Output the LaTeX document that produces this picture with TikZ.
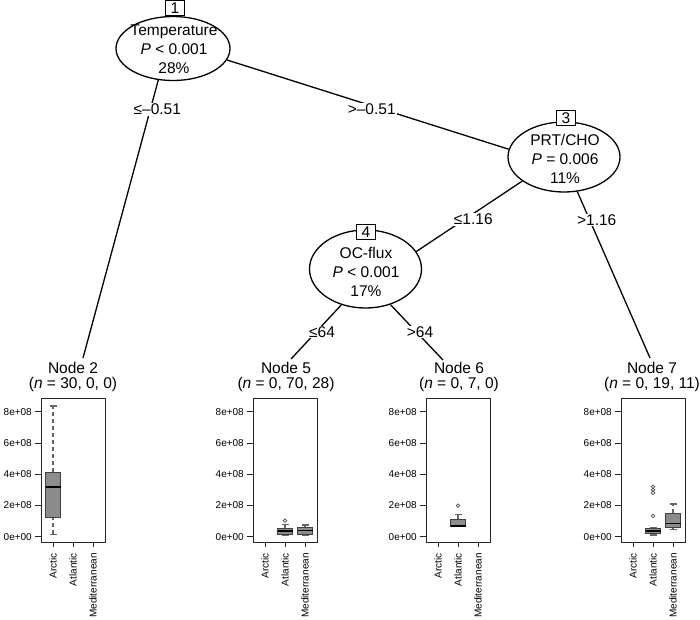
\documentclass[tikz,border=0pt]{standalone}
\usepackage{fontspec}
\setmainfont{Liberation Sans}
\usetikzlibrary{shapes.geometric}
\pgfmathdeclarefunction{yv}{1}{\pgfmathparse{536.7-15.6*#1}}
\tikzset{
 inode/.style={draw, ellipse, line width=1.3pt, fill=white, inner sep=0pt},
 itext/.style={align=center, font=\fontsize{15.5}{19}\selectfont, inner sep=0pt},
 numbox/.style={draw, fill=white, line width=1pt, inner sep=0pt, minimum width=19pt, minimum height=15pt, font=\fontsize{15.5}{18}\selectfont},
 edge/.style={line width=1.3pt},
 elab/.style={fill=white, inner sep=1pt, font=\fontsize{15.5}{18}\selectfont},
 hdr/.style={inner sep=0pt, font=\fontsize{15.5}{18}\selectfont},
 frame/.style={line width=0.9pt, draw=black!85},
 axl/.style={inner sep=0pt, font=\fontsize{10}{12}\selectfont},
 bx/.style={fill=black!45, draw=black!75, line width=0.8pt},
 whisk/.style={draw=black!60, dash pattern=on 4pt off 3pt, line width=1.1pt},
 capl/.style={draw=black!60, line width=1.1pt},
 medl/.style={line width=1.9pt},
 outl/.style={draw=black!70, line width=0.7pt},
}
\newcommand\bxp[6]{%
 \draw[whisk] (#1,{yv(#2)}) -- (#1,{yv(#3)}) (#1,{yv(#5)}) -- (#1,{yv(#6)});
 \draw[capl] ({#1-3.5},{yv(#2)}) -- ({#1+3.5},{yv(#2)}) ({#1-3.5},{yv(#6)}) -- ({#1+3.5},{yv(#6)});
 \filldraw[bx] ({#1-7.5},{yv(#3)}) rectangle ({#1+7.5},{yv(#5)});
 \draw[medl] ({#1-7.5},{yv(#4)}) -- ({#1+7.5},{yv(#4)});
}
\newcommand\outp[2]{\draw[outl] (#1,{yv(#2)}) circle (1.8pt);}
\newcommand\panel[2]{%
 \draw[frame] (#1,398) rectangle ++(64,144);
 \foreach \v/\t [count=\i] in {8/8e+08,6/6e+08,4/4e+08,2/2e+08,0/0e+00}{
   \draw[frame] ({#1-6.5},{yv(\v)}) -- (#1,{yv(\v)});
   \node[axl,anchor=east] (#2y\i) at ({#1-9},{yv(\v)}) {\t};
 }
 \foreach \c/\t [count=\i] in {12/Arctic,32/Atlantic,52/Mediterranean}{
   \draw[frame] ({#1+\c},542) -- ({#1+\c},547);
   \node[axl,rotate=90,anchor=east] (#2x\i) at ({#1+\c},553) {\t};
 }
}
\begin{document}
\begin{tikzpicture}[x=1pt,y=-1pt]
\useasboundingbox (0,0) rectangle (700,619);
% inner nodes
\node[inode, minimum width=114pt, minimum height=64pt] (n1) at (173,48.5) {};
\node[itext] (n1t) at (174,49.5) {Temperature\\\textit{P} < 0.001\\28\%};
\node[numbox] (b1) at (175,8) {1};
\node[inode, minimum width=112pt, minimum height=70pt] (n3) at (564,157) {};
\node[itext] (n3t) at (565,159) {PRT/CHO\\\textit{P} = 0.006\\11\%};
\node[numbox] (b3) at (566,118) {3};
\node[inode, minimum width=112pt, minimum height=78pt] (n4) at (365.5,269) {};
\node[itext] (n4t) at (366,271.5) {OC-flux\\\textit{P} < 0.001\\17\%};
\node[numbox] (b4) at (366,231.7) {4};
% terminal anchor points
\coordinate (t2) at (83,358);
\coordinate (t5) at (291,359);
\coordinate (t6) at (443,360);
\coordinate (t7) at (650,358);
% edges
\draw[edge] (n1.-115.8) -- (t2);
\draw[edge] (n1.-12.1) -- (n3.172.8);
\draw[edge] (n3.-150.7) -- (n4.19);
\draw[edge] (n3.-69.5) -- (t7);
\draw[edge] (n4.-124.2) -- (t5);
\draw[edge] (n4.-55) -- (t6);
% edge labels
\node[elab] (l12) at (157.3,109.3) {≤–0.51};
\node[elab] (l13) at (371.7,109.3) {>–0.51};
\node[elab] (l34) at (473.3,219.3) {≤1.16};
\node[elab] (l37) at (596.7,220) {>1.16};
\node[elab] (l45) at (322,332) {≤64};
\node[elab] (l46) at (420,332) {>64};
% terminal headers
\node[hdr] (h2a) at (73,368) {Node 2};
\node[hdr] (h2b) at (73,384.5) {(\textit{n} = 30, 0, 0)};
\node[hdr] (h5a) at (286,368) {Node 5};
\node[hdr] (h5b) at (286,384.5) {(\textit{n} = 0, 70, 28)};
\node[hdr] (h6a) at (459,368) {Node 6};
\node[hdr] (h6b) at (459,384.5) {(\textit{n} = 0, 7, 0)};
\node[hdr] (h7a) at (652,368) {Node 7};
\node[hdr] (h7b) at (652,384.5) {(\textit{n} = 0, 19, 11)};
% panels
\panel{41}{p2}
\panel{253}{p5}
\panel{426}{p6}
\panel{621}{p7}
% boxplots
\bxp{53}{0.17}{1.22}{3.19}{4.15}{8.38}
\bxp{285}{0.05}{0.17}{0.37}{0.56}{0.81}
\outp{285}{1.03}
\bxp{305}{0.05}{0.17}{0.40}{0.62}{0.75}
\bxp{458}{0.64}{0.64}{0.68}{1.12}{1.44}
\outp{458}{1.99}
\bxp{653}{0.11}{0.22}{0.38}{0.54}{0.60}
\outp{653}{1.33}
\outp{653}{2.82}
\outp{653}{3.00}
\outp{653}{3.20}
\bxp{673}{0.45}{0.60}{0.85}{1.50}{2.10}
\end{tikzpicture}
\end{document}
